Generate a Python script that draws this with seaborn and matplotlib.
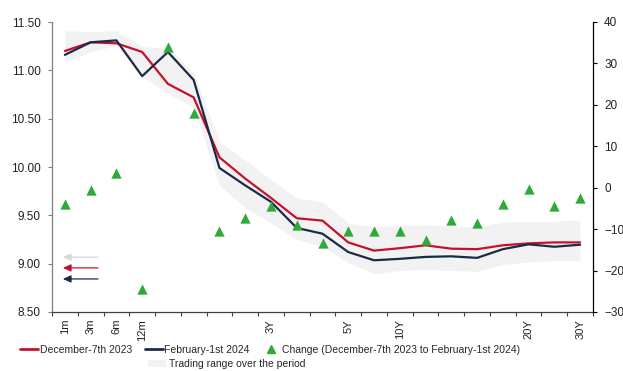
import matplotlib
matplotlib.use("Agg")
import matplotlib.pyplot as plt
import seaborn as sns
import numpy as np
import pandas as pd
from matplotlib.lines import Line2D
from matplotlib.patches import Patch

sns.set_theme(style="white")
plt.rcParams['font.family'] = ['Liberation Sans', 'DejaVu Sans']

tenor_labels = ["1m", "3m", "6m", "12m", "", "", "", "", "3Y", "", "", "5Y", "",
                "10Y", "", "", "", "", "20Y", "", "30Y"]
dec_2023 = [11.20, 11.29, 11.28, 11.19, 10.86, 10.72, 10.10, 9.88, 9.68, 9.47, 9.445,
            9.22, 9.135, 9.16, 9.19, 9.155, 9.15, 9.19, 9.21, 9.22, 9.22]
feb_2024 = [11.16, 11.29, 11.31, 10.94, 11.19, 10.90, 9.99, 9.81, 9.64, 9.37, 9.31,
            9.12, 9.035, 9.05, 9.07, 9.076, 9.06, 9.15, 9.20, 9.175, 9.196]
change_bp = [-4.0, -0.5, 3.6, -24.5, 34.0, 18.0, -10.5, -7.4, -4.4, -9.0, -13.3,
             -10.4, -10.4, -10.4, -12.5, -7.9, -8.4, -3.9, -0.4, -4.4, -2.4]
range_high = [11.41, 11.40, 11.41, 11.245, 11.23, 10.975, 10.26, 10.07, 9.87, 9.68, 9.64,
              9.42, 9.38, 9.40, 9.40, 9.39, 9.38, 9.43, 9.435, 9.44, 9.45]
range_low = [11.086, 11.19, 11.26, 10.935, 10.76, 10.62, 9.81, 9.58, 9.42, 9.25, 9.18,
             9.01, 8.895, 8.93, 8.94, 8.93, 8.92, 8.99, 9.02, 9.03, 9.03]

RED = "#C8102E"
NAVY = "#1B2A47"
GREEN = "#2EAA3A"
BAND = "#F2F2F2"

x = np.arange(len(tenor_labels))
df = pd.DataFrame({"x": x, "dec": dec_2023, "feb": feb_2024, "chg": change_bp,
                   "hi": range_high, "lo": range_low})

fig = plt.figure(figsize=(6.23, 3.71), dpi=100)
ax = fig.add_axes([52/623, 1-312/371, (593-52)/623, (312-22)/371])
ax2 = ax.twinx()

ax.fill_between(df["x"], df["lo"], df["hi"], color=BAND, linewidth=0, zorder=1)
sns.lineplot(data=df, x="x", y="dec", ax=ax, color=RED, linewidth=1.6, zorder=3)
sns.lineplot(data=df, x="x", y="feb", ax=ax, color=NAVY, linewidth=1.6, zorder=3)
sns.scatterplot(data=df, x="x", y="chg", ax=ax2, marker="^", color=GREEN, s=55,
                linewidth=0, zorder=4)

ax.set_xlim(-0.5, len(x) - 0.5)
ax.set_ylim(8.5, 11.5)
ax.set_yticks(np.arange(8.5, 11.51, 0.5))
ax.set_yticklabels([f"{v:.2f}" for v in np.arange(8.5, 11.51, 0.5)])
ax2.set_ylim(-30, 40)
ax2.set_yticks(np.arange(-30, 41, 10))

ax.set_xticks(x)
ax.set_xticklabels(tenor_labels, rotation=90)
ax.set_xticks(np.arange(-0.5, len(x), 1.0), minor=True)
ax.tick_params(axis="x", which="major", length=0, pad=5, labelsize=8, colors="#222222")
ax.tick_params(axis="x", which="minor", length=3, width=0.8, color="#404040", bottom=True)
ax.tick_params(axis="y", which="major", left=True, length=3, width=0.8, color="#808080",
               pad=5, labelsize=8.5, labelcolor="#222222")
ax2.tick_params(axis="y", which="major", right=True, length=3, width=0.8, color="#000000",
                pad=5, labelsize=8.5, labelcolor="#222222")

for a in (ax, ax2):
    a.set_xlabel("")
    a.set_ylabel("")
    a.grid(False)
    a.spines["top"].set_visible(False)
ax.spines["right"].set_visible(False)
ax.spines["left"].set_color("#808080")
ax.spines["bottom"].set_color("#404040")
ax2.spines["left"].set_visible(False)
ax2.spines["bottom"].set_visible(False)
ax2.spines["right"].set_color("#000000")
for s in ("left", "bottom"):
    ax.spines[s].set_linewidth(0.9)
ax2.spines["right"].set_linewidth(0.9)

# small arrows at left
for yf, col in [(0.189, "#D9D9D9"), (0.152, RED), (0.114, NAVY)]:
    ax.annotate("", xy=(0.02, yf), xytext=(0.085, yf), xycoords="axes fraction",
                arrowprops=dict(arrowstyle="-|>,head_length=0.4,head_width=0.18",
                                color=col, lw=0.9, shrinkA=0, shrinkB=0))

h1 = [Line2D([], [], color=RED, lw=2),
      Line2D([], [], color=NAVY, lw=2),
      Line2D([], [], color=GREEN, marker="^", linestyle="none", markersize=6)]
l1 = ["December-7th 2023", "February-1st 2024",
      "Change (December-7th 2023 to February-1st 2024)"]
fig.legend(h1, l1, loc="center left", bbox_to_anchor=(20/623, 1-350/371), ncol=3,
           frameon=False, fontsize=7.5, handlelength=1.75, handletextpad=0.15,
           columnspacing=1.2, borderpad=0, borderaxespad=0)
fig.legend([Patch(facecolor=BAND, edgecolor="none")], ["Trading range over the period"],
           loc="center left", bbox_to_anchor=(148/623, 1-364/371), frameon=False,
           fontsize=7.5, handlelength=1.7, handletextpad=0.3, borderpad=0, borderaxespad=0)

fig.savefig("out.png", dpi=100)
